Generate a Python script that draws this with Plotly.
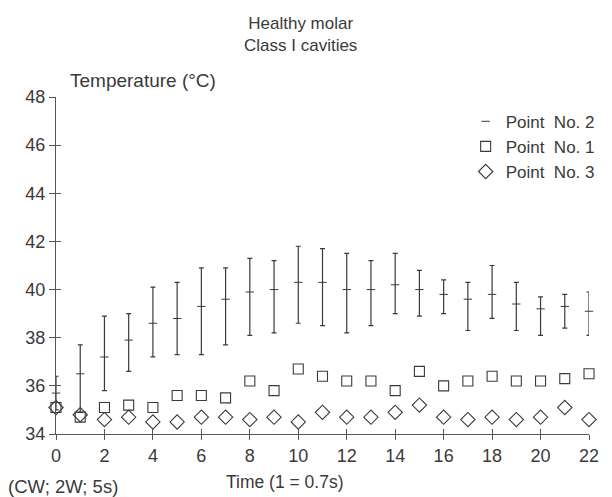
import plotly.graph_objects as go

time = list(range(23))
x_ticks = list(range(0, 23, 2))
y_ticks = list(range(34, 49, 2))

p2_mean = [35.7, 36.5, 37.2, 37.9, 38.6, 38.8, 39.3, 39.6, 39.9, 40.0, 40.3, 40.3,
           40.0, 40.0, 40.2, 40.0, 39.8, 39.6, 39.8, 39.4, 39.2, 39.3, 39.1]
p2_upper = [36.4, 37.7, 38.9, 39.0, 40.1, 40.3, 40.9, 40.9, 41.3, 41.2, 41.8, 41.7,
            41.5, 41.2, 41.5, 40.8, 40.4, 40.3, 41.0, 40.3, 39.7, 39.8, 39.9]
p2_lower = [35.0, 34.9, 35.8, 36.6, 37.2, 37.3, 37.3, 37.7, 38.1, 38.2, 38.6, 38.5,
            38.2, 38.5, 39.0, 38.9, 39.0, 38.3, 38.8, 38.3, 38.1, 38.4, 38.1]
p1 = [35.1, 34.7, 35.1, 35.2, 35.1, 35.6, 35.6, 35.5, 36.2, 35.8, 36.7, 36.4,
      36.2, 36.2, 35.8, 36.6, 36.0, 36.2, 36.4, 36.2, 36.2, 36.3, 36.5]
p3 = [35.1, 34.8, 34.6, 34.7, 34.5, 34.5, 34.7, 34.7, 34.6, 34.7, 34.5, 34.9,
      34.7, 34.7, 34.9, 35.2, 34.7, 34.6, 34.7, 34.6, 34.7, 35.1, 34.6]

err_plus = [u - m for u, m in zip(p2_upper, p2_mean)]
err_minus = [m - l for m, l in zip(p2_mean, p2_lower)]

INK = "#3a3a3a"
FONT = "Liberation Sans, Arial, sans-serif"

fig = go.Figure()
fig.add_trace(go.Scatter(
    x=time, y=p2_mean, mode="markers", name="Point\u00a0\u00a0No. 2",
    marker=dict(symbol="line-ew", size=6, line=dict(color=INK, width=1)),
    error_y=dict(type="data", symmetric=False, array=err_plus, arrayminus=err_minus,
                 color=INK, thickness=1.2, width=2.5),
    cliponaxis=False,
))
fig.add_trace(go.Scatter(
    x=time, y=p1, mode="markers", name="Point\u00a0\u00a0No. 1",
    marker=dict(symbol="square-open", size=10, color=INK, line=dict(width=1.1)),
    cliponaxis=False,
))
fig.add_trace(go.Scatter(
    x=time, y=p3, mode="markers", name="Point\u00a0\u00a0No. 3",
    marker=dict(symbol="diamond-open", size=11, color=INK, line=dict(width=1.1)),
    cliponaxis=False,
))
# invisible trace on overlay axes so the inner tick marks (crossing ticks) are drawn
fig.add_trace(go.Scatter(x=[], y=[], xaxis="x2", yaxis="y2", showlegend=False,
                         hoverinfo="skip"))

fig.update_layout(
    width=612, height=497,
    margin=dict(l=56, r=12, t=97, b=63),
    paper_bgcolor="white", plot_bgcolor="white",
    font=dict(family=FONT, size=17, color=INK),
    showlegend=True,
    legend=dict(x=1.02, xanchor="right", y=0.98, yanchor="top",
                bgcolor="rgba(0,0,0,0)", font=dict(size=17, color=INK),
                itemwidth=30, tracegroupgap=0),
    xaxis=dict(range=[0, 22], tickvals=x_ticks, showgrid=False, zeroline=False,
               showline=True, linecolor="#555", linewidth=1.3,
               ticks="outside", ticklen=5, tickcolor="#555",
               tickfont=dict(size=18, color=INK)),
    yaxis=dict(range=[34, 48], tickvals=y_ticks, showgrid=False, zeroline=False,
               showline=True, linecolor="#555", linewidth=1.3,
               ticks="outside", ticklen=6, tickcolor="#555",
               tickfont=dict(size=18, color=INK)),
    xaxis2=dict(range=[0, 22], tickvals=x_ticks, overlaying="x", side="bottom",
                showgrid=False, zeroline=False, showline=False,
                ticks="inside", ticklen=5, tickcolor="#555", showticklabels=False),
    yaxis2=dict(range=[34, 48], tickvals=y_ticks, overlaying="y", side="left",
                showgrid=False, zeroline=False, showline=False,
                ticks="inside", ticklen=5, tickcolor="#555", showticklabels=False),
    annotations=[
        dict(text="Healthy molar<br>Class I cavities", xref="paper", yref="paper",
             x=(306 - 56) / 544, y=1.252, xanchor="center", yanchor="top",
             showarrow=False, font=dict(size=17, color=INK)),
        dict(text="Temperature (°C)", xref="paper", yref="paper", x=0.022, y=1.05,
             xanchor="left", yanchor="middle", showarrow=False,
             font=dict(size=19, color=INK)),
        dict(text="Time (1 = 0.7s)", xref="paper", yref="paper", x=0.43, y=-0.142,
             xanchor="center", yanchor="middle", showarrow=False,
             font=dict(size=17.5, color=INK)),
        dict(text="(CW; 2W; 5s)", xref="paper", yref="paper", x=-0.094, y=-0.157,
             xanchor="left", yanchor="middle", showarrow=False,
             font=dict(size=18.5, color=INK)),
    ],
)

fig.write_html("out.html")
